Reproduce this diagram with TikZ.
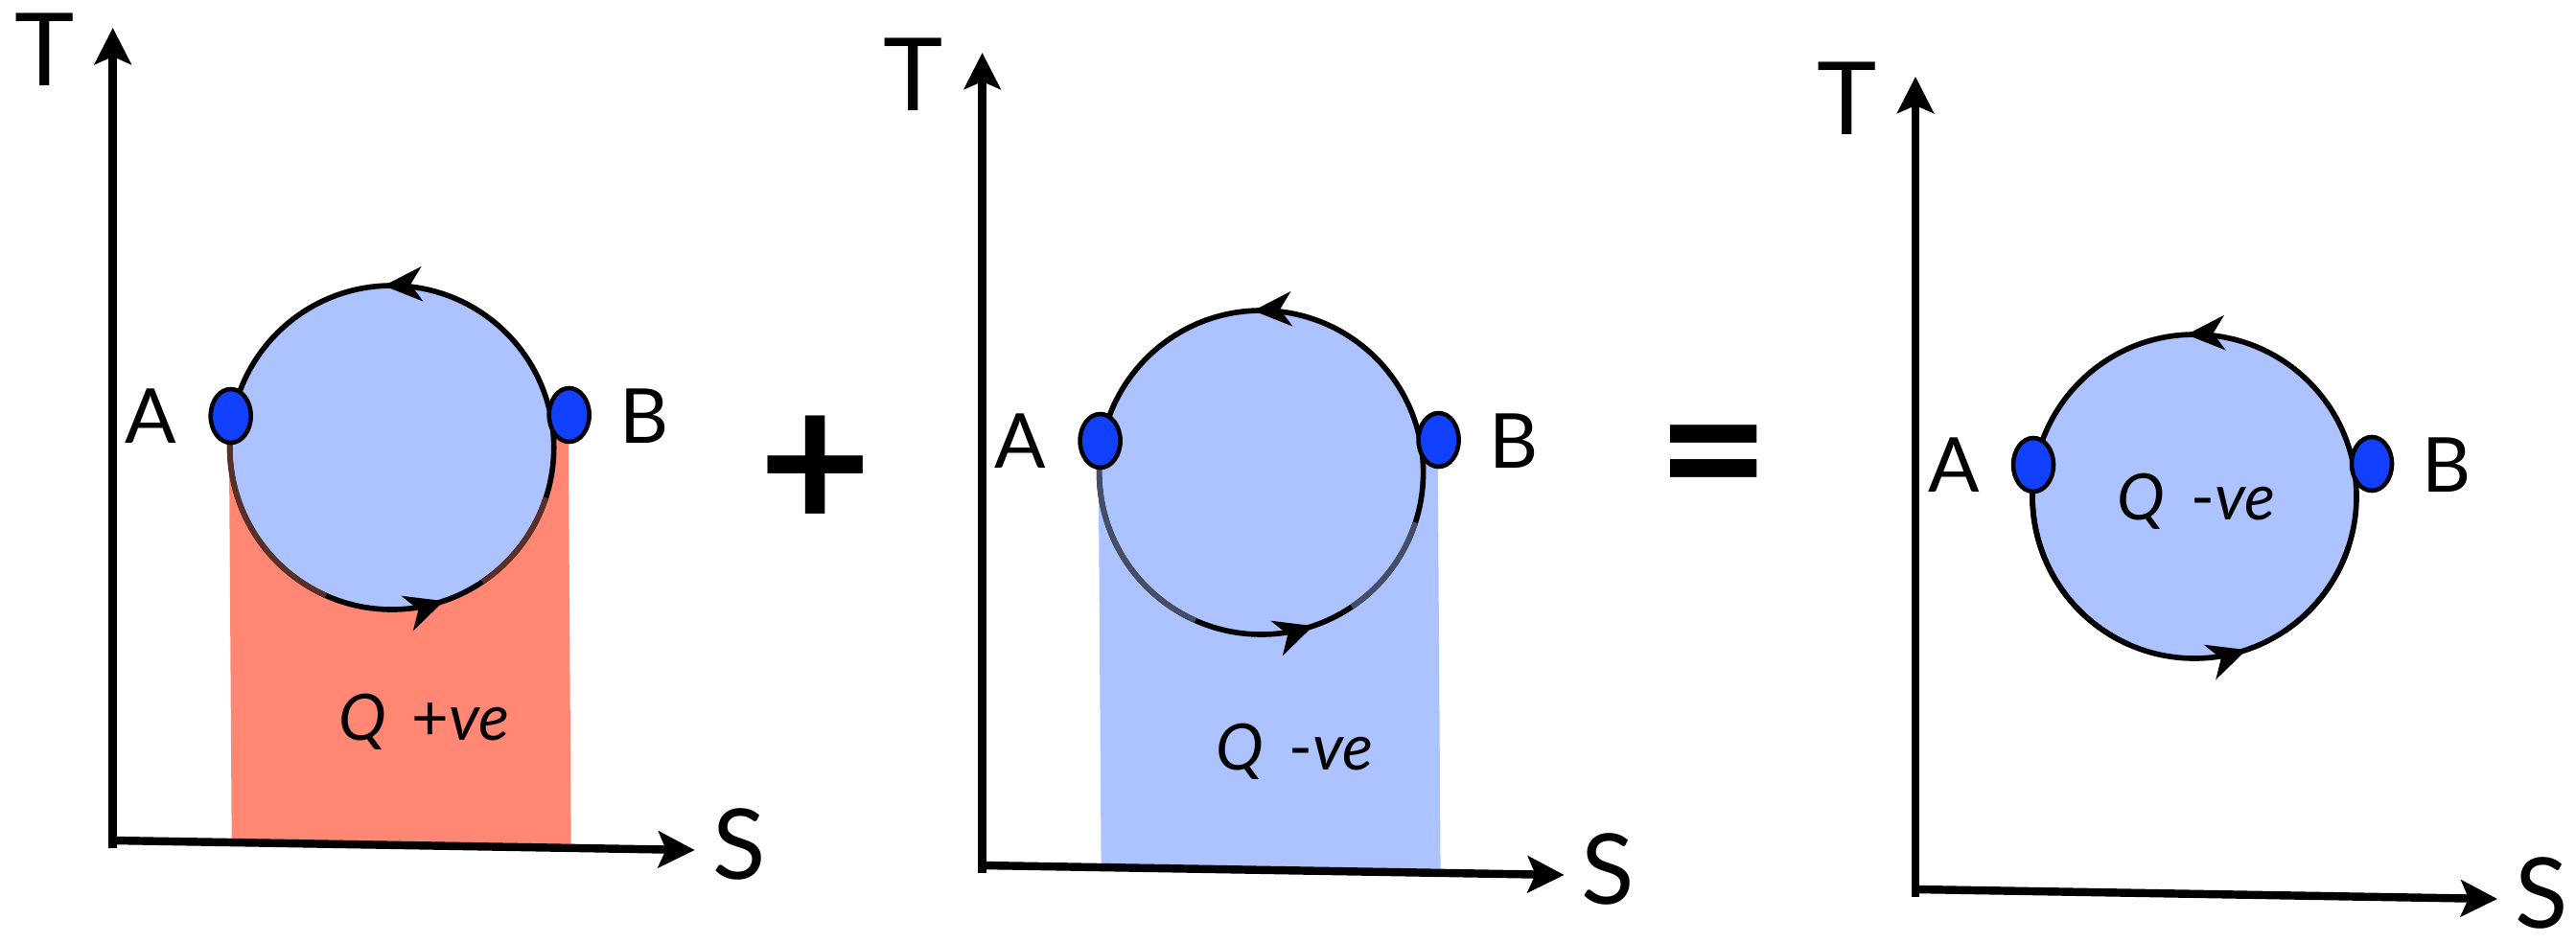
\documentclass[tikz,border=0pt]{standalone}
\usepackage{fontspec}
\setmainfont{Lato}
\usetikzlibrary{arrows.meta, shapes.geometric, decorations.markings}

\definecolor{loopblue}{RGB}{173,195,255}
\definecolor{heatred}{RGB}{255,135,116}
\definecolor{dotblue}{RGB}{18,64,255}

\begin{document}
\begin{tikzpicture}[
  axis/.style={line width=2.4pt, -{Stealth[length=0.38cm, width=0.38cm, inset=0.08cm]}},
  axislabel/.style={font=\fontsize{30}{30}\selectfont, inner sep=0pt},
  pointlabel/.style={font=\fontsize{22.5}{22.5}\selectfont, inner sep=0pt},
  qlabel/.style={font=\fontsize{19}{19}\selectfont, inner sep=0pt},
  state/.style={ellipse, draw, line width=1.3pt, fill=dotblue, minimum width=0.42cm, minimum height=0.56cm, inner sep=0pt},
  loopline/.style={line width=1.6pt, fill=loopblue, postaction={decorate},
    decoration={markings,
      mark=at position 0.258 with {\arrow{Stealth[length=0.4cm, width=0.36cm, inset=0.12cm]}},
      mark=at position 0.802 with {\arrow{Stealth[length=0.4cm, width=0.38cm, inset=0.12cm]}}}},
  op/.style={font=\fontsize{58}{58}\selectfont\bfseries, inner sep=0pt}
]
  \useasboundingbox (0,0) rectangle (26.87,9.83);

  % one T-S diagram per panel
  \foreach \i/\x/\y/\heat/\tint/\qx/\qy/\sign in {1/1.177/1.06/heatred/heatred!35!black/3.245/1.24/+,
      2/10.246/0.80/loopblue/loopblue!40!black/3.26/1.19/-, 3/19.98/0.55/none/black/2.93/4.045/-}{
    \begin{scope}[shift={(\x,\y)}]
      \coordinate (o\i) at (0,0);
      \coordinate (t\i) at (0,8.48);
      \coordinate (s\i) at (6.07,-0.10);

      \path[fill=\heat] (1.21,4.43) -- (1.24,-0.03) -- (4.78,-0.08) -- (4.75,4.44) -- cycle;
      \draw[loopline] (2.91,4.10) circle (1.69);
      % tinted stretches of the lower arc
      \draw[line width=1.6pt, \tint] (2.91,4.10) ++(172:1.69) arc[start angle=172, end angle=246, radius=1.69];
      \draw[line width=1.6pt, \tint] (2.91,4.10) ++(304:1.69) arc[start angle=304, end angle=342, radius=1.69];

      \node[state] (a\i) at (1.23,4.43) {};
      \node[state] (b\i) at (4.76,4.44) {};
      \node[pointlabel] (la\i) at (0.40,4.43) {A};
      \node[pointlabel] (lb\i) at (5.54,4.43) {B};
      \node[qlabel] (q\i) at (\qx,\qy) {\textit{Q}\hspace{0.4em}\sign\textit{ve}};

      \draw[axis] ([yshift=-0.08cm]o\i) -- (t\i);
      \draw[axis] (o\i) -- (s\i);
      \node[axislabel] (lt\i) at (-0.715,8.25) {T};
      \node[axislabel, font=\fontsize{29}{29}\selectfont] (ls\i) at (6.53,-0.04) {S};
    \end{scope}
  }

  \node[op] (plus) at (8.505,4.895) {+};
  \node[op] (equals) at (17.875,4.91) {=};
\end{tikzpicture}
\end{document}
